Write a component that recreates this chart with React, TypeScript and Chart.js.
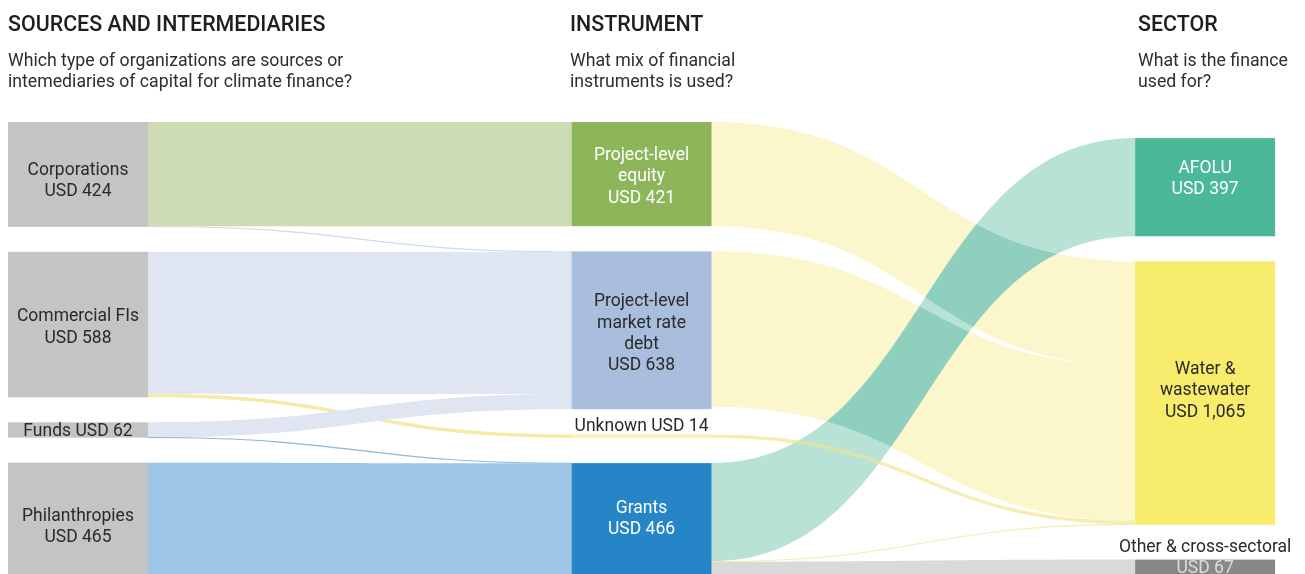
import React, { useEffect, useRef } from "react";
import { Chart, registerables } from "chart.js";

Chart.register(...registerables);

// ---------- DATA ----------
const sourceNames = ["Corporations", "Commercial FIs", "Funds", "Philanthropies"];
const sourceValues = [424, 588, 62, 465];

const instrumentNames = ["Project-level equity", "Project-level market rate debt", "Unknown", "Grants"];
const instrumentValues = [421, 638, 14, 466];

const sectorNames = ["AFOLU", "Water & wastewater", "Other & cross-sectoral"];
const sectorValues = [397, 1065, 67];

const linkSources = [
  "Corporations", "Corporations", "Commercial FIs", "Commercial FIs", "Funds", "Funds", "Philanthropies",
  "Project-level equity", "Project-level market rate debt", "Grants", "Grants", "Unknown", "Grants",
];
const linkTargets = [
  "Project-level equity", "Project-level market rate debt", "Project-level market rate debt", "Unknown",
  "Project-level market rate debt", "Grants", "Grants",
  "Water & wastewater", "Water & wastewater", "Other & cross-sectoral", "AFOLU", "Water & wastewater", "Water & wastewater",
];
const linkValues = [421, 3, 574, 14, 61, 1, 465, 421, 628, 67, 397, 14, 2];

// label text lines for each node (name part)
const labelNameLines: Record<string, string[]> = {
  "Corporations": ["Corporations"],
  "Commercial FIs": ["Commercial FIs"],
  "Funds": [],
  "Philanthropies": ["Philanthropies"],
  "Project-level equity": ["Project-level", "equity"],
  "Project-level market rate debt": ["Project-level", "market rate", "debt"],
  "Unknown": [],
  "Grants": ["Grants"],
  "AFOLU": ["AFOLU"],
  "Water & wastewater": ["Water &", "wastewater"],
  "Other & cross-sectoral": ["Other & cross-sectoral"],
};
const singleLineLabels = ["Funds", "Unknown"];

// ---------- LAYOUT / STYLE ----------
const NODE_W = 0.2484; // in x-scale units (column spacing = 1)
const columnGaps = [
  [0, 101, 101, 101],
  [0, 102, 102, 102],
  [65, 101, 141],
];
const nodeColors: Record<string, string> = {
  "Corporations": "#c4c4c4",
  "Commercial FIs": "#c4c4c4",
  "Funds": "#c4c4c4",
  "Philanthropies": "#c4c4c4",
  "Project-level equity": "#8db65b",
  "Project-level market rate debt": "#a9bedd",
  "Unknown": "#f7f1b8",
  "Grants": "#2585c7",
  "AFOLU": "#4cb89a",
  "Water & wastewater": "#f7ec6b",
  "Other & cross-sectoral": "#888888",
};
const labelColors: Record<string, string> = {
  "Project-level equity": "#ffffff",
  "Grants": "#ffffff",
  "AFOLU": "#ffffff",
};
const labelDy: Record<string, number> = {
  "Corporations": 7,
  "Commercial FIs": 3,
  "Funds": 2,
  "Philanthropies": 7,
  "Project-level equity": 3,
  "Project-level market rate debt": 3.5,
  "Unknown": -10,
  "Grants": -1.5,
  "AFOLU": -8,
  "Water & wastewater": -2,
  "Other & cross-sectoral": -9.5,
};
const linkColors = [
  "#cddcb5", "#cfdaec", "#dfe6f1", "#f3eba6", "#dfe6f1", "#86b9e2", "#9dc6e6",
  "#fbf6cc", "#fbf6cc", "#d9d9d9", "#b8e2d6", "rgba(240,228,140,0.65)", "rgba(240,228,140,0.65)",
];
const overlapDark = "#8fcfbd";
const LABEL_FONT = "17.5px Roboto";
const LINE_H = 21.3;

type NodeInfo = { name: string; col: number; value: number; y0: number; y1: number };

function buildNodes(): Record<string, NodeInfo> {
  const cols = [
    [sourceNames, sourceValues],
    [instrumentNames, instrumentValues],
    [sectorNames, sectorValues],
  ] as [string[], number[]][];
  const nodes: Record<string, NodeInfo> = {};
  cols.forEach(([names, vals], c) => {
    let y = 0;
    names.forEach((n, i) => {
      y += columnGaps[c][i];
      nodes[n] = { name: n, col: c, value: vals[i], y0: y, y1: y + vals[i] };
      y += vals[i];
    });
  });
  return nodes;
}

function fmt(v: number) {
  return v.toLocaleString("en-US");
}

const sankeyPlugin = {
  id: "sankeyDraw",
  afterDatasetsDraw(chart: any) {
    const { ctx } = chart;
    const xs = chart.scales.x;
    const ys = chart.scales.y;
    const nodes = buildNodes();

    const links = linkValues.map((v, i) => ({
      i,
      s: nodes[linkSources[i]],
      t: nodes[linkTargets[i]],
      v,
      sy: 0,
      ty: 0,
    }));
    Object.values(nodes).forEach((n) => {
      const outs = links.filter((l) => l.s === n).sort((a, b) => a.t.y0 - b.t.y0);
      let o = n.y0;
      outs.forEach((l) => { l.sy = o; o += l.v; });
      const ins = links.filter((l) => l.t === n).sort((a, b) => a.s.y0 - b.s.y0);
      let p = n.y0;
      ins.forEach((l) => { l.ty = p; p += l.v; });
    });

    const linkPath = (l: any) => {
      const x0 = xs.getPixelForValue(l.s.col + NODE_W);
      const x1 = xs.getPixelForValue(l.t.col);
      const xm = (x0 + x1) / 2;
      const s0 = ys.getPixelForValue(l.sy);
      const s1 = ys.getPixelForValue(l.sy + l.v);
      const t0 = ys.getPixelForValue(l.ty);
      const t1 = ys.getPixelForValue(l.ty + l.v);
      ctx.beginPath();
      ctx.moveTo(x0, s0);
      ctx.bezierCurveTo(xm, s0, xm, t0, x1, t0);
      ctx.lineTo(x1, t1);
      ctx.bezierCurveTo(xm, t1, xm, s1, x0, s1);
      ctx.closePath();
      return { x0, x1, xm, s0, s1, t0, t1 };
    };
    const drawLink = (l: any) => {
      ctx.save();
      const p = linkPath(l);
      const w = p.s1 - p.s0;
      if (w < 2) {
        const sm = (p.s0 + p.s1) / 2;
        const tm = (p.t0 + p.t1) / 2;
        ctx.beginPath();
        ctx.moveTo(p.x0, sm);
        ctx.bezierCurveTo(p.xm, sm, p.xm, tm, p.x1, tm);
        ctx.strokeStyle = linkColors[l.i];
        ctx.lineWidth = Math.max(w, 1.2);
        ctx.stroke();
      } else {
        ctx.fillStyle = linkColors[l.i];
        ctx.fill();
      }
      ctx.restore();
    };

    const isThin = (l: any) => ys.getPixelForValue(l.v) - ys.getPixelForValue(0) < 5;
    const firstStage = links.filter((l) => l.s.col === 0);
    const secondBig = links.filter((l) => l.s.col === 1 && !isThin(l) && l.t.name !== "AFOLU");
    const green = links.filter((l) => l.t.name === "AFOLU");
    const yellowBig = links.filter((l) => l.s.col === 1 && l.t.name === "Water & wastewater" && !isThin(l));
    const thinSecond = links.filter((l) => l.s.col === 1 && isThin(l));

    firstStage.forEach(drawLink);
    secondBig.forEach(drawLink);
    green.forEach((g) => {
      drawLink(g);
      yellowBig.forEach((yl) => {
        ctx.save();
        linkPath(yl);
        ctx.clip();
        linkPath(g);
        ctx.fillStyle = overlapDark;
        ctx.fill();
        ctx.restore();
      });
    });
    thinSecond.forEach(drawLink);

    // nodes
    Object.values(nodes).forEach((n) => {
      const left = xs.getPixelForValue(n.col);
      const right = xs.getPixelForValue(n.col + NODE_W);
      const top = ys.getPixelForValue(n.y0);
      const bot = ys.getPixelForValue(n.y1);
      ctx.fillStyle = nodeColors[n.name];
      ctx.fillRect(left, top, right - left, bot - top);
    });

    // labels
    ctx.save();
    ctx.font = LABEL_FONT;
    ctx.textAlign = "center";
    ctx.textBaseline = "middle";
    Object.values(nodes).forEach((n) => {
      const cx = (xs.getPixelForValue(n.col) + xs.getPixelForValue(n.col + NODE_W)) / 2;
      const cy = (ys.getPixelForValue(n.y0) + ys.getPixelForValue(n.y1)) / 2 + (labelDy[n.name] || 0);
      const lines = singleLineLabels.includes(n.name)
        ? [n.name + " USD " + fmt(n.value)]
        : [...labelNameLines[n.name], "USD " + fmt(n.value)];
      const startY = cy - ((lines.length - 1) * LINE_H) / 2;
      lines.forEach((t, k) => {
        let color = labelColors[n.name] || "#2a2a2a";
        if (n.name === "Other & cross-sectoral") color = k === 0 ? "#2a2a2a" : "#dcdcdc";
        ctx.fillStyle = color;
        ctx.fillText(t, cx, startY + k * LINE_H);
      });
    });
    ctx.restore();
  },
};

const headers = [
  { title: "SOURCES AND INTERMEDIARIES", sub: ["Which type of organizations are sources or", "intemediaries of capital for climate finance?"], left: 8 },
  { title: "INSTRUMENT", sub: ["What mix of financial", "instruments is used?"], left: 570 },
  { title: "SECTOR", sub: ["What is the finance", "used for?"], left: 1138 },
];

export default function App() {
  const ref = useRef<HTMLCanvasElement | null>(null);
  useEffect(() => {
    const canvas = ref.current!;
    const chart = new Chart(canvas, {
      type: "scatter",
      data: { datasets: [] },
      options: {
        responsive: false,
        animation: false,
        devicePixelRatio: 1,
        layout: { padding: { left: 8, right: 29, top: 122, bottom: 0 } },
        scales: {
          x: { type: "linear", min: 0, max: 2.25, display: false },
          y: { type: "linear", min: 0, max: 1900, reverse: true, display: false },
        },
        plugins: { legend: { display: false }, tooltip: { enabled: false } },
      },
      plugins: [sankeyPlugin],
    } as any);
    return () => chart.destroy();
  }, []);

  return (
    <div style={{ position: "absolute", left: 0, top: 0, width: 1305, height: 574, overflow: "hidden", background: "#fff", fontFamily: "Roboto, sans-serif" }}>
      <canvas ref={ref} width={1305} height={592} style={{ position: "absolute", left: 0, top: 0, width: 1305, height: 592 }} />
      {headers.map((h) => (
        <div key={h.title} style={{ position: "absolute", left: h.left, top: 0 }}>
          <div style={{ position: "absolute", top: 13, left: 0, whiteSpace: "nowrap", fontSize: 21.4, fontWeight: 500, lineHeight: "22px", color: "#1e1e1e" }}>{h.title}</div>
          <div style={{ position: "absolute", top: 50, left: 0, whiteSpace: "nowrap", fontSize: 17.7, lineHeight: "21px", color: "#2e2e2e" }}>
            {h.sub.map((s) => (<div key={s}>{s}</div>))}
          </div>
        </div>
      ))}
    </div>
  );
}
